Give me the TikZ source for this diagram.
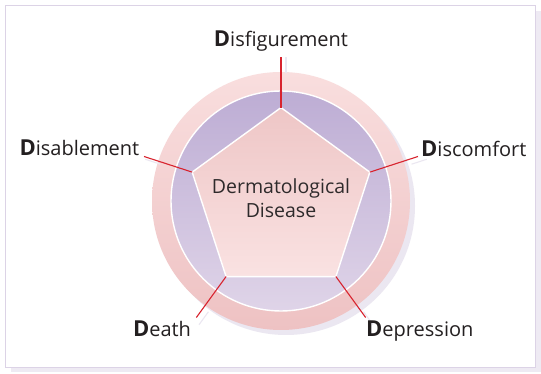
\documentclass[tikz,border=0pt]{standalone}
\usepackage{fontspec}
\setmainfont{Open Sans}
\usetikzlibrary{calc}
\definecolor{framec}{HTML}{DCD3E6}
\definecolor{frameshadow}{HTML}{EEEAF3}
\definecolor{ringtop}{HTML}{BDADD4}
\definecolor{ringbot}{HTML}{DFD4E8}
\definecolor{pinkA}{HTML}{F9DEDE}
\definecolor{pinkB}{HTML}{EEC2C3}
\definecolor{pentop}{HTML}{EEC6C6}
\definecolor{penbot}{HTML}{FAE2E2}
\definecolor{redline}{HTML}{D8232E}
\definecolor{circshadow}{HTML}{EBE7F1}
\definecolor{txt}{HTML}{231F20}
\tikzset{
  lbl/.style={font=\fontsize{20}{22}\selectfont, text=txt, inner sep=0pt},
  redc/.style={draw=redline, line width=1.1pt},
  shadowline/.style={draw=circshadow, line width=1.1pt},
  sep/.style={draw=white, line width=1.4pt}
}
\newcommand{\bigD}{{\fontsize{22}{22}\selectfont\bfseries D}}
\begin{document}
\begin{tikzpicture}[x=1pt,y=1pt]
\useasboundingbox (0,0) rectangle (541,374);
% frame
\fill[frameshadow] (11,2) rectangle (541,363);
\draw[framec, fill=white, line width=1pt] (5.5,6) rectangle (535.5,368.5);
\coordinate (C) at (281,173);
% circle shadow
\fill[circshadow] ($(C)+(5,-5)$) circle (129);
\shade[shading angle=-45, top color=pinkA, bottom color=pinkB] (C) circle (129);
\shade[top color=ringtop, bottom color=ringbot, sep] (C) circle (110);
% vertices
\foreach \n/\a in {v1/90, v2/18, v3/-54, v4/-126, v5/162}{
  \coordinate (\n) at ($(C)+(\a:93.4)$);
  \coordinate (\n o) at ($(C)+(\a:144)$);
  \coordinate (\n s) at ($(C)+(\a:132)+(5,-4)$);
  \coordinate (\n t) at ($(C)+(\a:148)+(5,-4)$);
}
% shadows of connectors
\foreach \n in {v1,v2,v3,v4,v5}{ \draw[shadowline] (\n s) -- (\n t); }
\shade[top color=pentop, bottom color=penbot, sep, line join=miter] (v1) -- (v2) -- (v3) -- (v4) -- (v5) -- cycle;
% connectors
\foreach \n in {v1,v2,v3,v4,v5}{ \draw[redc] (\n) -- (\n o); }
% center text
\node[font=\fontsize{19.5}{24}\selectfont, text=txt!95, align=center, inner sep=0pt] (core) at (281,176) {Dermatological\\Disease};
% labels
\node[lbl, anchor=base] (dis) at (281,327) {\bigD isfigurement};
\node[lbl, anchor=base west] (dcom) at (421,217.5) {\bigD iscomfort};
\node[lbl, anchor=base east] (dabl) at (139.5,218) {\bigD isablement};
\node[lbl, anchor=base] (dea) at (162,37.5) {\bigD eath};
\node[lbl, anchor=base west] (dep) at (366,37.5) {\bigD epression};
\end{tikzpicture}
\end{document}
